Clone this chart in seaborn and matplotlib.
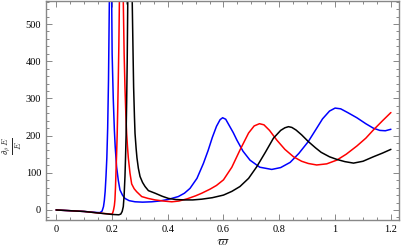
import numpy as np
import pandas as pd
import matplotlib
matplotlib.use('Agg')
import matplotlib.pyplot as plt
import seaborn as sns
from matplotlib.ticker import FixedLocator, MultipleLocator

# values, near the poles big values get clipped by ylim
blue_x = [0, 0.05, 0.1, 0.15, 0.158, 0.165, 0.17, 0.173, 0.176, 0.179, 0.182, 0.185, 0.188,
          0.191, 0.194,
          0.197, 0.199, 0.201, 0.205, 0.209, 0.212, 0.217, 0.223, 0.229, 0.238, 0.247, 0.262,
          0.283, 0.31, 0.343, 0.37, 0.40, 0.438, 0.46, 0.48, 0.505, 0.528, 0.545, 0.56, 0.575,
          0.588, 0.597, 0.608, 0.62, 0.635, 0.648, 0.67, 0.695, 0.73, 0.773, 0.805, 0.839,
          0.87, 0.904, 0.93, 0.955, 0.98, 1.0, 1.02, 1.045, 1.078, 1.11, 1.137, 1.16, 1.18, 1.2]
blue_y = [0, -2, -4, -7, -7, -3, 9, 25, 50, 90, 140, 220, 350,
          560, 2000,
          2000, 600, 420, 300, 215, 170, 116, 80, 54, 40, 31, 25,
          22, 21, 22, 24, 28, 36, 45, 58, 85, 125, 160, 195, 225,
          243, 248, 244, 228, 208, 188, 158, 134, 115, 109, 114, 128,
          152, 184, 215, 245, 266, 274, 272, 262, 248, 232, 220, 214, 213, 217]

red_x = [0, 0.05, 0.1, 0.15, 0.18, 0.2, 0.203, 0.206, 0.209, 0.211, 0.213, 0.215, 0.217,
         0.219, 0.221, 0.223, 0.225, 0.227, 0.231,
         0.236, 0.239, 0.241, 0.244, 0.247, 0.25, 0.253, 0.256, 0.259, 0.265, 0.271, 0.28,
         0.289, 0.307, 0.33, 0.355, 0.385, 0.415, 0.44, 0.47, 0.5, 0.522, 0.552, 0.575, 0.6,
         0.63, 0.659, 0.69, 0.71, 0.729, 0.745, 0.765, 0.791, 0.82, 0.851, 0.88, 0.904, 0.934,
         0.97, 1.006, 1.04, 1.078, 1.11, 1.137, 1.17, 1.2]
red_y = [0, -2, -4, -8, -10, -11, -8, 0, 12, 27, 60, 107, 150,
         200, 270, 350, 440, 560, 2000,
         2000, 700, 560, 420, 330, 260, 206, 170, 140, 99, 70, 57,
         49, 36, 31, 27, 24, 22, 24, 30, 38, 45, 56, 66, 81,
         115, 161, 207, 226, 232, 229, 214, 188, 163, 143, 131, 125, 121,
         124, 134, 150, 172, 193, 215, 240, 262]

black_x = [0, 0.05, 0.1, 0.15, 0.2, 0.225, 0.232, 0.237, 0.241, 0.244, 0.247, 0.249, 0.251,
           0.253, 0.255, 0.257, 0.262,
           0.268, 0.271, 0.273, 0.276, 0.278, 0.281, 0.283, 0.287, 0.29, 0.295, 0.301, 0.31,
           0.319, 0.331, 0.355, 0.38, 0.403, 0.43, 0.462, 0.49, 0.522, 0.56, 0.6, 0.63, 0.659,
           0.69, 0.719, 0.75, 0.779, 0.805, 0.82, 0.833, 0.845, 0.86, 0.88, 0.904, 0.93, 0.95,
           0.98, 1.006, 1.035, 1.066, 1.1, 1.137, 1.17, 1.2]
black_y = [0, -2, -4, -8, -12, -13, -11, -4, 9, 40, 90, 140, 200,
           290, 400, 560, 2000,
           2000, 700, 560, 420, 330, 250, 206, 165, 140, 112, 90, 74,
           63, 52, 45, 37, 31, 28, 27, 27, 29, 33, 40, 50, 63,
           85, 116, 155, 193, 214, 221, 224, 222, 215, 202, 184, 167, 155,
           143, 136, 130, 126, 131, 143, 153, 163]

xticks = [0, 0.2, 0.4, 0.6, 0.8, 1.0, 1.2]
xtick_labels = ['0', '0.2', '0.4', '0.6', '0.8', '1', '1.2']
yticks = [0, 100, 200, 300, 400, 500]

sns.set_style('ticks')
plt.rcParams['font.family'] = ['Liberation Serif', 'DejaVu Serif']
plt.rcParams['mathtext.fontset'] = 'cm'

fig = plt.figure(figsize=(4.07, 2.5), dpi=100)
ax = fig.add_axes([46 / 407, 30 / 250, 353 / 407, 219 / 250])

for xs, ys, c in [(blue_x, blue_y, '#0000ff'), (red_x, red_y, '#ff0000'), (black_x, black_y, 'black')]:
    df = pd.DataFrame({'w': xs, 'v': ys})
    sns.lineplot(data=df, x='w', y='v', color=c, lw=1.1, sort=False, estimator=None, ax=ax)

ax.set_xlim(-0.036, 1.229)
ax.set_ylim(-27, 562)
ax.xaxis.set_major_locator(FixedLocator(xticks))
ax.set_xticklabels(xtick_labels)
ax.xaxis.set_minor_locator(MultipleLocator(0.05))
ax.yaxis.set_major_locator(FixedLocator(yticks))
ax.yaxis.set_minor_locator(MultipleLocator(20))

for s in ax.spines.values():
    s.set_color('#888888')
    s.set_linewidth(1.0)
ax.tick_params(which='both', direction='in', top=True, right=True, colors='#888888',
               labelcolor='black', labelsize=7.5, width=0.7)
ax.tick_params(which='major', length=4)
ax.tick_params(which='minor', length=2)

ax.set_xlabel(r'$\varpi$', fontsize=10, labelpad=1)
ax.set_ylabel(r'$\frac{\partial_\rho\, E}{E}$', fontsize=9, va='center')
ax.yaxis.set_label_coords(-0.096, 0.34)

fig.savefig('out.png', dpi=100)
